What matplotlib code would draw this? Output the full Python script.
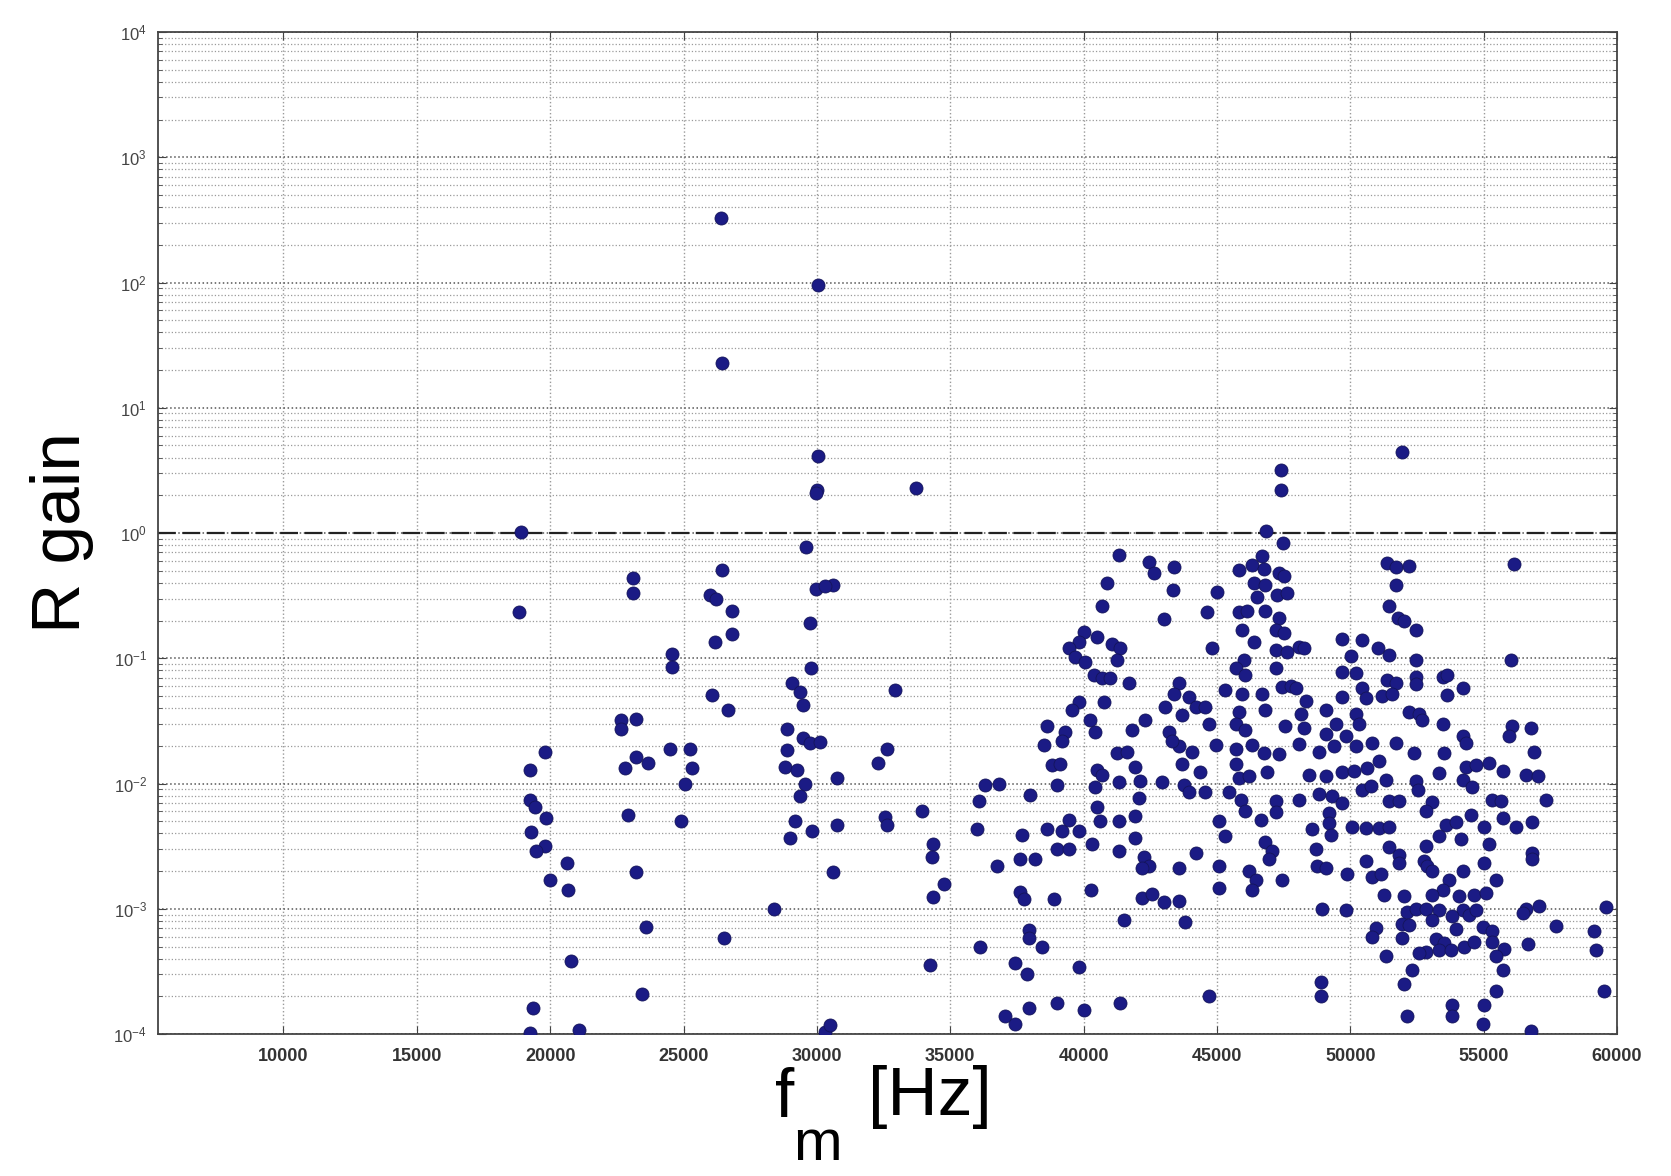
import matplotlib
matplotlib.use("Agg")
import matplotlib.pyplot as plt
from matplotlib.ticker import LogLocator, FixedLocator

plt.rcParams['font.family'] = ['Liberation Sans', 'DejaVu Sans']

# ---- data (frequency in Hz, R gain) ----
# 18-34 kHz, upper part
f_left_hi = [26400, 30050, 26450, 30050, 30000, 29950, 33700, 18900, 29600, 26450,
             23100, 23100, 26000, 26200, 26800, 29950, 30600, 30300, 18850]
g_left_hi = [325, 95, 22.6, 4.1, 2.2, 2.1, 2.3, 1.02, 0.78, 0.51,
             0.435, 0.33, 0.32, 0.30, 0.24, 0.36, 0.385, 0.38, 0.235]

# 18-35 kHz, lower part
f_left_lo = [19800, 19230, 19230, 19420, 19860, 19300, 19800, 19480, 20650, 19980,
             20670, 20800, 19360, 19230, 21100, 22670, 23230, 22670, 23230, 23670,
             22800, 22920, 23200, 23610, 23450, 24550, 24550, 24490, 25240, 25300,
             25050, 24900, 26800, 26180, 26050, 26680, 28400, 26530, 29740, 29780,
             29050, 29370, 29490, 28870, 29490, 29740, 30120, 28870, 28800, 29240,
             29560, 29370, 29180, 29810, 28990, 30740, 30740, 30620, 30310, 30490,
             32930, 32620, 32310, 32560, 32620, 33940, 34370, 34310, 34750, 34370,
             34250]
g_left_lo = [0.018, 0.0128, 0.0074, 0.0065, 0.0053, 0.0041, 0.0032, 0.0029, 0.0023, 0.0017,
             0.0014, 3.8e-4, 1.6e-4, 1.02e-4, 1.08e-4, 0.032, 0.033, 0.0275, 0.0164, 0.0145,
             0.0132, 0.0056, 0.00198, 7.2e-4, 2.07e-4, 0.109, 0.0855, 0.019, 0.019, 0.0132,
             0.010, 0.005, 0.155, 0.136, 0.051, 0.0386, 0.001, 5.8e-4, 0.19, 0.083,
             0.063, 0.054, 0.042, 0.0275, 0.0229, 0.0209, 0.0216, 0.0185, 0.0136, 0.0128,
             0.010, 0.0079, 0.005, 0.0042, 0.0037, 0.011, 0.0047, 0.00198, 1.04e-4, 1.18e-4,
             0.056, 0.019, 0.0145, 0.0054, 0.0047, 0.006, 0.0033, 0.0026, 0.00157, 0.00125,
             3.55e-4]

# 38-48 kHz, upper part
f_mid_hi = [47420, 47390, 46850, 47470, 41320, 42440, 42630, 43380, 43350, 40880,
            40690, 43010, 45010, 44630, 46700, 45820, 46320, 46760, 47320, 47510,
            46390, 46820, 46510, 47260, 47640, 45820, 46140, 46820, 47320, 47200,
            47510, 45950, 46390, 44820, 47200, 47640, 40000, 39820, 40500, 41070,
            41380, 39440, 39690, 40070, 41260, 40380, 40690, 41000, 41690, 46010,
            45700, 46070, 47200, 47450, 47760, 43570, 43380, 43940, 45320, 45950,
            46700, 39820, 40750, 39570, 43070, 44200, 44570, 45820, 46820, 43700,
            40250, 38630, 39320, 41820, 42320, 43200, 44700, 45700, 46070, 47570,
            40440]
g_mid_hi = [3.18, 2.2, 1.04, 0.83, 0.667, 0.59, 0.476, 0.54, 0.35, 0.40,
            0.26, 0.205, 0.336, 0.236, 0.65, 0.51, 0.556, 0.52, 0.476, 0.45,
            0.40, 0.385, 0.31, 0.32, 0.33, 0.235, 0.24, 0.24, 0.21, 0.168,
            0.16, 0.168, 0.136, 0.12, 0.116, 0.113, 0.163, 0.136, 0.149, 0.131,
            0.12, 0.12, 0.103, 0.094, 0.097, 0.073, 0.069, 0.069, 0.063, 0.097,
            0.083, 0.073, 0.083, 0.059, 0.06, 0.063, 0.052, 0.049, 0.056, 0.052,
            0.052, 0.045, 0.045, 0.0386, 0.041, 0.041, 0.041, 0.0375, 0.0386, 0.035,
            0.032, 0.029, 0.026, 0.027, 0.032, 0.026, 0.030, 0.030, 0.027, 0.029,
            0.026]

# 48-60 kHz, upper part
f_right_hi = [51950, 51390, 51700, 52200, 56150, 51700, 51450, 51770, 52020, 52480,
              49700, 50450, 48080, 48260, 50020, 51020, 51450, 52460, 56020, 49700,
              50200, 51390, 51700, 52460, 52460, 53460, 53640, 54210, 53640, 47950,
              50450, 49700, 51200, 51580, 48330, 50580, 49080, 52200, 52580, 50200,
              48140, 49450, 50330, 52700, 53460, 56080, 56770, 48260, 49080, 49830,
              54210, 55960]
g_right_hi = [4.46, 0.58, 0.54, 0.545, 0.57, 0.385, 0.26, 0.21, 0.20, 0.168,
              0.142, 0.14, 0.124, 0.12, 0.104, 0.12, 0.106, 0.097, 0.097, 0.077,
              0.076, 0.067, 0.064, 0.071, 0.062, 0.071, 0.073, 0.0575, 0.051, 0.058,
              0.058, 0.049, 0.05, 0.052, 0.046, 0.048, 0.0386, 0.0375, 0.036, 0.036,
              0.036, 0.030, 0.030, 0.032, 0.030, 0.029, 0.028, 0.028, 0.025, 0.024,
              0.024, 0.024]

# 36-48 kHz, lower part
f_mid_lo = [38500, 39190, 38820, 39130, 36310, 36810, 36060, 38000, 39000, 36000,
            37690, 38630, 39190, 39440, 39820, 39000, 39440, 40320, 36750, 37630,
            38190, 37630, 37750, 38880, 40260, 40500, 40690, 40440, 40500, 40630,
            41260, 41630, 41320, 41940, 42130, 42070, 41940, 41320, 41940, 41320,
            42950, 43570, 43320, 44070, 43700, 44380, 43760, 43950, 44570, 44950,
            45700, 46320, 45700, 45820, 46200, 46760, 47320, 46890, 45450, 45890,
            46070, 46640, 47200, 47200, 45070, 45320, 46820, 47070, 46950, 44200,
            42260, 42440, 42190, 43570, 45070, 46200, 46450, 47450, 46320, 45070,
            42190, 42570, 43010, 43570, 41510, 43820, 37940, 37940, 38440, 36130,
            37440, 37880, 39820, 39000, 37940, 40000, 37060, 37440, 41380, 44700]
g_mid_lo = [0.0203, 0.022, 0.014, 0.0142, 0.0097, 0.010, 0.0072, 0.0081, 0.0097, 0.0043,
            0.0039, 0.0043, 0.0042, 0.0051, 0.0042, 0.003, 0.003, 0.0033, 0.0022, 0.0025,
            0.0025, 0.00137, 0.0012, 0.0012, 0.0014, 0.0128, 0.0116, 0.0094, 0.0065, 0.005,
            0.0174, 0.018, 0.0103, 0.0136, 0.0105, 0.0076, 0.0055, 0.005, 0.00365, 0.0029,
            0.0102, 0.020, 0.022, 0.0177, 0.0142, 0.0124, 0.0098, 0.0086, 0.0086, 0.0203,
            0.019, 0.0203, 0.0142, 0.011, 0.0114, 0.0175, 0.0172, 0.0124, 0.0086, 0.0074,
            0.006, 0.0051, 0.0072, 0.0059, 0.005, 0.0038, 0.0034, 0.0029, 0.0025, 0.0028,
            0.0026, 0.0022, 0.0021, 0.0021, 0.0022, 0.0020, 0.0017, 0.0017, 0.0014, 0.00146,
            0.00121, 0.00132, 0.00113, 0.00115, 8.1e-4, 7.8e-4, 6.8e-4, 5.9e-4, 5e-4, 5e-4,
            3.7e-4, 3e-4, 3.4e-4, 1.76e-4, 1.6e-4, 1.55e-4, 1.4e-4, 1.2e-4, 1.76e-4, 2e-4]

# 48-60 kHz, lower part
f_right_lo = [48080, 48830, 49390, 50200, 50830, 51700, 52390, 53520, 54330, 56900,
              48450, 49080, 49700, 50140, 50640, 51080, 51330, 52460, 53330, 54330,
              54710, 55210, 55710, 56580, 57020, 48080, 48830, 49330, 49700, 50450,
              50770, 51450, 51830, 52520, 53080, 52830, 54210, 54580, 55330, 55650,
              57340, 49200, 49200, 48580, 49260, 50080, 50580, 51080, 51450, 53580,
              53960, 54520, 55020, 55710, 56210, 56830, 53330, 54140, 55210, 48700,
              51450, 51830, 52830, 56830, 56830, 50580, 48760, 49080, 49890, 50830,
              51140, 51830, 52770, 52890, 53080, 54210, 55020, 55460, 53710, 53460,
              51270, 52020, 53080, 54080, 54650, 55080, 48950, 49830, 52140, 52460,
              52830, 53330, 54210, 54460, 54710, 53830, 56580, 57090, 56460, 59590,
              50950, 51950, 52210, 53080, 53960, 54960, 55330, 57710, 59150, 50830,
              51950, 53210, 53520, 54270, 54650, 55330, 55770, 56650, 59210, 52830,
              52580, 53330, 53770, 51330, 55460, 55710, 52330, 52020, 48890, 48890,
              55460, 59530, 53830, 55020, 53830, 52140, 54960, 56770]
g_right_lo = [0.0208, 0.018, 0.020, 0.020, 0.021, 0.021, 0.0174, 0.0174, 0.021, 0.018,
              0.0117, 0.0115, 0.0124, 0.0127, 0.0132, 0.015, 0.0107, 0.0105, 0.0122, 0.0136,
              0.014, 0.0145, 0.0125, 0.0117, 0.0114, 0.0074, 0.0082, 0.0079, 0.007, 0.0088,
              0.0096, 0.0072, 0.0073, 0.0088, 0.0071, 0.006, 0.0107, 0.0094, 0.0074, 0.0073,
              0.0074, 0.0058, 0.0048, 0.0043, 0.0039, 0.0045, 0.0044, 0.0044, 0.0045, 0.0047,
              0.0049, 0.0056, 0.0045, 0.0053, 0.0045, 0.0049, 0.0038, 0.0036, 0.0033, 0.0030,
              0.0031, 0.0027, 0.0032, 0.0028, 0.0025, 0.0024, 0.0022, 0.0021, 0.0019, 0.0018,
              0.0019, 0.0023, 0.0024, 0.0022, 0.0020, 0.0020, 0.0023, 0.0017, 0.0017, 0.0014,
              0.00129, 0.00127, 0.0013, 0.00127, 0.0013, 0.00133, 0.001, 9.7e-4, 9.4e-4, 1e-3,
              1e-3, 9.8e-4, 9.8e-4, 9e-4, 9.8e-4, 8.7e-4, 1e-3, 1.06e-3, 9.2e-4, 1.04e-3,
              7e-4, 7.5e-4, 7.4e-4, 8.1e-4, 6.9e-4, 7.2e-4, 6.6e-4, 7.3e-4, 6.7e-4, 6e-4,
              5.9e-4, 5.7e-4, 5.3e-4, 5e-4, 5.4e-4, 5.4e-4, 4.8e-4, 5.2e-4, 4.7e-4, 4.5e-4,
              4.4e-4, 4.7e-4, 4.7e-4, 4.2e-4, 4.2e-4, 3.25e-4, 3.25e-4, 2.5e-4, 2.6e-4, 2.0e-4,
              2.2e-4, 2.2e-4, 1.7e-4, 1.7e-4, 1.4e-4, 1.4e-4, 1.2e-4, 1.05e-4]

x_ticks = [10000, 15000, 20000, 25000, 30000, 35000, 40000, 45000, 50000, 55000, 60000]
x_range = (5300, 60000)
y_range = (1e-4, 1e4)
threshold = 1.0

# ---- figure ----
fig = plt.figure(figsize=(16.71, 11.76), dpi=100)
ax = fig.add_axes([0.0946, 0.1207, 0.8731, 0.8521])

ax.set_yscale('log')
ax.set_xlim(*x_range)
ax.set_ylim(*y_range)

# MATLAB-like dotted grid
ax.yaxis.set_major_locator(LogLocator(base=10, numticks=12))
ax.yaxis.set_minor_locator(LogLocator(base=10, subs=range(2, 10), numticks=12))
ax.xaxis.set_major_locator(FixedLocator(x_ticks))
ax.grid(which='major', axis='y', linestyle=':', color='#555555', linewidth=1.1)
ax.grid(which='minor', axis='y', linestyle=':', color='#9a9a9a', linewidth=0.9)
ax.grid(which='major', axis='x', linestyle=':', color='#9a9a9a', linewidth=1.0)
ax.set_axisbelow(True)

ax.axhline(threshold, color='#222222', linewidth=1.6, dashes=(8, 3), zorder=2)

groups = [(f_left_hi, g_left_hi), (f_left_lo, g_left_lo), (f_mid_hi, g_mid_hi),
          (f_right_hi, g_right_hi), (f_mid_lo, g_mid_lo), (f_right_lo, g_right_lo)]
for f, g in groups:
    ax.scatter(f, g, s=88, color='#1b1b85', edgecolors='#14145a', linewidths=0.6,
               zorder=3)

# axes styling
for sp in ax.spines.values():
    sp.set_color('#444444')
    sp.set_linewidth(1.3)
ax.tick_params(which='both', direction='in', top=True, right=True, colors='#444444')
ax.tick_params(which='major', length=6)
ax.tick_params(which='minor', length=3)
ax.tick_params(axis='x', labelsize=13, labelcolor='#333333', pad=10)
ax.tick_params(axis='y', labelsize=12, labelcolor='#444444', pad=8)
for lbl in ax.get_xticklabels():
    lbl.set_fontweight('bold')

# x label: "f" with a low subscript "m", then "[Hz]"
fig.text(0.4635, 0.050, 'f', fontsize=50, ha='left', va='baseline')
fig.text(0.4745, 0.014, 'm', fontsize=42, ha='left', va='baseline')
fig.text(0.5195, 0.052, '[Hz]', fontsize=50, ha='left', va='baseline')

ax.set_ylabel('R gain', fontsize=50, labelpad=14)

fig.savefig('out.png', dpi=100, facecolor='white')
